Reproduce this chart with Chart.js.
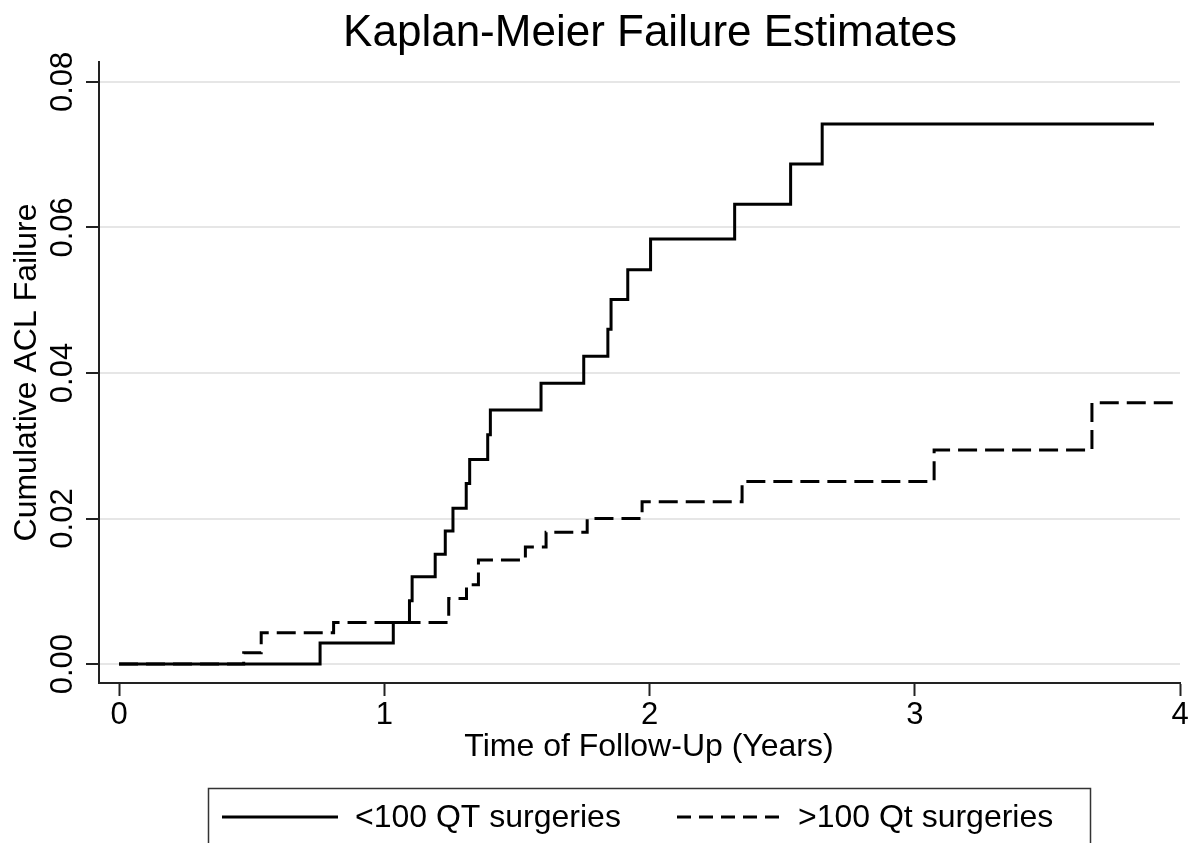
<!DOCTYPE html>
<html>
<head>
<meta charset="utf-8">
<script src="https://cdn.jsdelivr.net/npm/chart.js@4.4.1/dist/chart.umd.min.js"></script>
<style>
  html, body { margin: 0; padding: 0; background: #ffffff; }
  #wrap { width: 1196px; height: 843px; }
</style>
</head>
<body>
<div id="wrap"><canvas id="c" width="1196" height="843"></canvas></div>
<script>
// ---- data ----
const chartTitle = "Kaplan-Meier Failure Estimates";
const xAxisTitle = "Time of Follow-Up (Years)";
const yAxisTitle = "Cumulative ACL Failure";
const xTickValues = [0, 1, 2, 3, 4];
const yTickValues = [0, 0.02, 0.04, 0.06, 0.08];

const lowLabel = "<100 QT surgeries";
const lowTimes  = [0, 0.758, 1.034, 1.095, 1.105, 1.192, 1.230, 1.259, 1.309, 1.322, 1.390, 1.400, 1.591, 1.752, 1.843, 1.855, 1.918, 2.004, 2.321, 2.532, 2.651, 3.902];
const lowValues = [0, 0.0029, 0.0057, 0.0087, 0.0120, 0.0151, 0.0183, 0.0214, 0.0248, 0.0281, 0.0315, 0.0349, 0.0386, 0.0423, 0.0460, 0.0501, 0.0542, 0.0584, 0.0632, 0.0687, 0.0742, 0.0742];

const highLabel = ">100 Qt surgeries";
const highTimes  = [0, 0.470, 0.536, 0.809, 1.243, 1.310, 1.355, 1.532, 1.610, 1.765, 1.972, 2.349, 3.073, 3.668, 3.985];
const highValues = [0, 0.00155, 0.0043, 0.0057, 0.0090, 0.0109, 0.0143, 0.0161, 0.0181, 0.0200, 0.0223, 0.0251, 0.0294, 0.0359, 0.0359];

const FONT = "'Liberation Sans', Arial, 'DejaVu Sans', sans-serif";

function toPoints(xs, ys) { return xs.map((x, i) => ({ x: x, y: ys[i] })); }

const annotate = {
  id: 'annotate',
  afterDraw(chart) {
    const ctx = chart.ctx;
    ctx.save();
    ctx.fillStyle = '#000';
    // main title
    ctx.font = "44px " + FONT;
    ctx.textAlign = 'center';
    ctx.textBaseline = 'alphabetic';
    ctx.fillText(chartTitle, 650, 46);
    // x axis title
    ctx.font = "32px " + FONT;
    ctx.textBaseline = 'middle';
    ctx.fillText(xAxisTitle, 649, 747);
    // legend box
    ctx.strokeStyle = '#333';
    ctx.lineWidth = 1.5;
    ctx.strokeRect(208.5, 788.5, 882, 100);
    const ds = chart.data.datasets;
    const items = [
      { ds: ds[0], x0: 222, x1: 338, tx: 355 },
      { ds: ds[1], x0: 677, x1: 782, tx: 798 }
    ];
    items.forEach(it => {
      ctx.beginPath();
      ctx.strokeStyle = it.ds.borderColor;
      ctx.lineWidth = 3;
      ctx.lineCap = 'butt';
      ctx.setLineDash(it.ds.borderDash && it.ds.borderDash.length ? [14, 8] : []);
      ctx.moveTo(it.x0, 817);
      ctx.lineTo(it.x1, 817);
      ctx.stroke();
      ctx.setLineDash([]);
      ctx.fillStyle = '#000';
      ctx.font = "32px " + FONT;
      ctx.textAlign = 'left';
      ctx.textBaseline = 'middle';
      ctx.fillText(it.ds.label, it.tx, 818);
    });
    ctx.restore();
  }
};

const bgPlugin = {
  id: 'bg',
  beforeDraw(chart) {
    const ctx = chart.ctx;
    ctx.save();
    ctx.fillStyle = '#fff';
    ctx.fillRect(0, 0, chart.width, chart.height);
    ctx.restore();
  }
};

new Chart(document.getElementById('c'), {
  type: 'line',
  data: {
    datasets: [
      {
        label: lowLabel,
        data: toPoints(lowTimes, lowValues),
        borderColor: '#000',
        borderWidth: 3,
        stepped: 'before',
        pointRadius: 0,
        fill: false,
        borderCapStyle: 'butt',
        borderJoinStyle: 'miter'
      },
      {
        label: highLabel,
        data: toPoints(highTimes, highValues),
        borderColor: '#000',
        borderWidth: 3,
        borderDash: [19, 8],
        stepped: 'before',
        pointRadius: 0,
        fill: false,
        borderCapStyle: 'butt',
        borderJoinStyle: 'miter'
      }
    ]
  },
  options: {
    responsive: false,
    animation: false,
    layout: { padding: { left: 0, right: 16, top: 62, bottom: 80 } },
    plugins: {
      legend: { display: false },
      title: { display: false },
      tooltip: { enabled: false }
    },
    scales: {
      x: {
        type: 'linear',
        min: -0.0755,
        max: 4.0,
        afterBuildTicks(scale) { scale.ticks = xTickValues.map(v => ({ value: v })); },
        afterFit(scale) { scale.height = 80; },
        border: { display: true, color: '#222', width: 2 },
        grid: { drawOnChartArea: false, drawTicks: true, tickLength: 13, tickColor: '#222', tickWidth: 2 },
        ticks: {
          color: '#000',
          font: { family: FONT, size: 31 },
          padding: 1,
          maxRotation: 0,
          minRotation: 0,
          callback: v => String(v)
        }
      },
      y: {
        type: 'linear',
        min: -0.0026,
        max: 0.08273,
        afterBuildTicks(scale) { scale.ticks = yTickValues.map(v => ({ value: v })); },
        afterFit(scale) { scale.width = 99; },
        border: { display: true, color: '#222', width: 2 },
        grid: { color: '#e6e6e6', lineWidth: 2, drawTicks: true, tickLength: 13, tickColor: '#222', tickWidth: 2 },
        ticks: {
          color: '#000',
          font: { family: FONT, size: 31 },
          padding: -8,
          minRotation: 90,
          maxRotation: 90,
          crossAlign: 'center',
          callback: v => Number(v).toFixed(2)
        },
        title: {
          display: true,
          text: yAxisTitle,
          color: '#000',
          font: { family: FONT, size: 32, lineHeight: 1.2 },
          padding: { top: 8, bottom: 0 }
        }
      }
    }
  },
  plugins: [bgPlugin, annotate]
});
</script>
</body>
</html>
